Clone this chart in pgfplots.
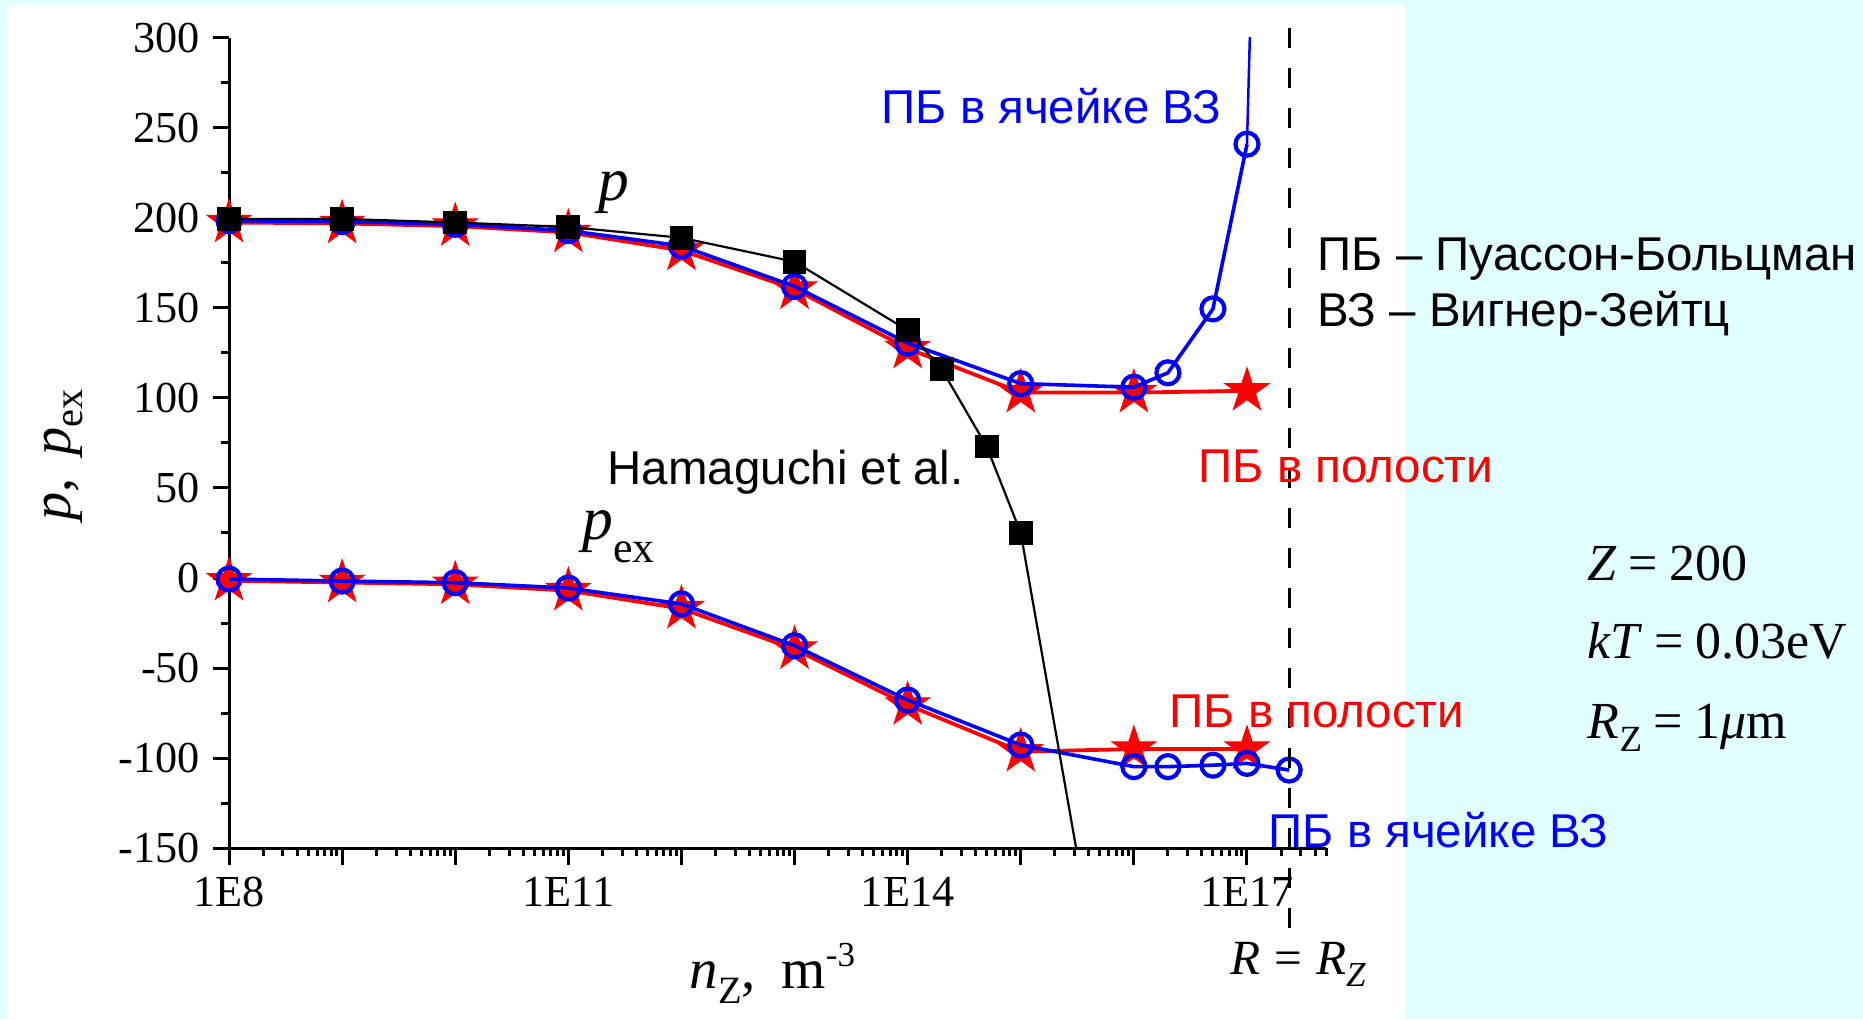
\documentclass[border=0pt]{standalone}
\usepackage{pgfplots}
\pgfplotsset{compat=1.18}
\usepackage{fontspec}
\setmainfont{Liberation Serif}
\newfontfamily\arial{Liberation Sans}

\definecolor{bgcyan}{RGB}{226,255,255}
\definecolor{pbblue}{RGB}{0,0,255}
\definecolor{pbred}{RGB}{255,0,0}

% filled five-pointed star
\pgfdeclareplotmark{fstar}{%
  \pgfpathmoveto{\pgfpointpolar{90}{\pgfplotmarksize}}%
  \pgfpathlineto{\pgfpointpolar{126}{0.382\pgfplotmarksize}}%
  \pgfpathlineto{\pgfpointpolar{162}{\pgfplotmarksize}}%
  \pgfpathlineto{\pgfpointpolar{198}{0.382\pgfplotmarksize}}%
  \pgfpathlineto{\pgfpointpolar{234}{\pgfplotmarksize}}%
  \pgfpathlineto{\pgfpointpolar{270}{0.382\pgfplotmarksize}}%
  \pgfpathlineto{\pgfpointpolar{306}{\pgfplotmarksize}}%
  \pgfpathlineto{\pgfpointpolar{342}{0.382\pgfplotmarksize}}%
  \pgfpathlineto{\pgfpointpolar{18}{\pgfplotmarksize}}%
  \pgfpathlineto{\pgfpointpolar{54}{0.382\pgfplotmarksize}}%
  \pgfpathclose
  \pgfusepathqfillstroke
}

\begin{document}
\begin{tikzpicture}
\useasboundingbox (0,0) rectangle (186.3mm,101.9mm);
\fill[bgcyan] (0,0) rectangle (186.3mm,101.9mm);
\fill[white] (0.8mm,0) rectangle (140.5mm,101.4mm);

\begin{axis}[
  at={(22.9mm,17.1mm)}, anchor=south west,
  scale only axis, width=109.7mm, height=81mm,
  xmode=log, xmin=1e8, xmax=5e17,
  ymin=-150, ymax=300,
  axis x line=bottom, axis y line=left,
  axis line style={-, line width=0.3mm},
  xtick={1e8,1e9,1e10,1e11,1e12,1e13,1e14,1e15,1e16,1e17},
  xticklabels={1E8,,,1E11,,,1E14,,,1E17},
  minor xtick={2e8,3e8,4e8,5e8,6e8,7e8,8e8,9e8,
    2e9,3e9,4e9,5e9,6e9,7e9,8e9,9e9,
    2e10,3e10,4e10,5e10,6e10,7e10,8e10,9e10,
    2e11,3e11,4e11,5e11,6e11,7e11,8e11,9e11,
    2e12,3e12,4e12,5e12,6e12,7e12,8e12,9e12,
    2e13,3e13,4e13,5e13,6e13,7e13,8e13,9e13,
    2e14,3e14,4e14,5e14,6e14,7e14,8e14,9e14,
    2e15,3e15,4e15,5e15,6e15,7e15,8e15,9e15,
    2e16,3e16,4e16,5e16,6e16,7e16,8e16,9e16,
    2e17,3e17,4e17,5e17},
  ytick={-150,-100,...,300},
  minor ytick={-125,-75,...,275},
  tick align=outside,
  major tick length=1.65mm, minor tick length=0.8mm,
  every tick/.style={black, line width=0.3mm},
  tick label style={font=\fontsize{12.6}{14}\selectfont},
  /pgf/number format/assume math mode=true,
  clip mode=individual,
]

% p, Poisson-Boltzmann in a cavity
\addplot[pbred, line width=0.38mm, mark=fstar, mark size=2.3mm,
  mark options={solid, fill=pbred, draw=pbred, line width=0.1mm}]
  coordinates {(1e8,197.5) (1e9,197) (1e10,195.5) (1e11,192) (1e12,182)
    (1e13,160.5) (1e14,127.5) (1e15,103) (1e16,103) (1e17,104)};
% p_ex, Poisson-Boltzmann in a cavity
\addplot[pbred, line width=0.38mm, mark=fstar, mark size=2.3mm,
  mark options={solid, fill=pbred, draw=pbred, line width=0.1mm}]
  coordinates {(1e8,-1.5) (1e9,-2.5) (1e10,-3.5) (1e11,-7) (1e12,-17)
    (1e13,-39.5) (1e14,-70.5) (1e15,-96.5) (1e16,-95) (1e17,-95)};

% p, Poisson-Boltzmann in the Wigner-Seitz cell
\addplot[pbblue, line width=0.36mm, mark=o, mark size=1.15mm,
  mark options={solid, line width=0.42mm}]
  coordinates {(1e8,198.5) (1e9,198) (1e10,196.5) (1e11,193) (1e12,184.5)
    (1e13,162) (1e14,130.5) (1e15,108) (1e16,106) (2e16,114)
    (5e16,149.5) (1e17,241)};
\addplot[pbblue, line width=0.25mm, no marks]
  coordinates {(1e17,241) (1.065e17,305)};
% p_ex, Poisson-Boltzmann in the Wigner-Seitz cell
\addplot[pbblue, line width=0.36mm, mark=o, mark size=1.15mm,
  mark options={solid, line width=0.42mm}]
  coordinates {(1e8,-0.6) (1e9,-1.7) (1e10,-2.6) (1e11,-5.6) (1e12,-14.4)
    (1e13,-37.6) (1e14,-67.8) (1e15,-92.8) (1e16,-104.8) (2e16,-104.8)
    (5e16,-104) (1e17,-103) (2.36e17,-106.7)};

% Hamaguchi et al.
\addplot[black, line width=0.22mm, mark=square*, mark size=1.08mm,
  mark options={solid, fill=black}]
  coordinates {(1e8,199.5) (1e9,199.5) (1e10,197.5) (1e11,195) (1e12,189)
    (1e13,175.7) (1e14,137.6) (2e14,116) (5e14,73) (1e15,25)};
\addplot[black, line width=0.22mm, no marks]
  coordinates {(1e15,25) (5e15,-225)};

% R = R_Z
\draw[black, line width=0.28mm, dash pattern=on 2mm off 2mm]
  (axis cs:2.36e17,305.5) -- (axis cs:2.36e17,-194.5);
\end{axis}

\begin{scope}[x=0.1mm, y=-0.1mm, shift={(0mm,101.9mm)}]
  % axis titles
  \node[anchor=base west, inner sep=0pt, font=\fontsize{16.2}{19}\selectfont]
    at (689,988) {\textit{n}\raisebox{-1.5mm}{\fontsize{11}{12}\selectfont Z},\hspace{0.45em}m\raisebox{2.2mm}{\fontsize{10}{11}\selectfont -3}};
  \node[anchor=base, rotate=90, inner sep=0pt, font=\fontsize{16}{19}\selectfont]
    at (70,455) {\textit{p},\hspace{0.4em}\textit{p}\raisebox{-1.2mm}{\fontsize{11.5}{12}\selectfont ex}};

  % curve names
  \node[anchor=base west, inner sep=0pt, font=\fontsize{17.5}{20}\selectfont]
    at (598,201) {\textit{p}};
  \node[anchor=base west, inner sep=0pt, font=\fontsize{17.5}{20}\selectfont]
    at (582,539) {\textit{p}\raisebox{-2.3mm}{\fontsize{12.5}{13}\selectfont ex}};

  \begin{scope}[every node/.style={anchor=base west, inner sep=0pt,
      font=\arial\fontsize{13.5}{16}\selectfont}]
    \node[black] at (607,484) {Hamaguchi et al.};
    \node[pbblue] at (881,124) {ПБ в ячейке ВЗ};
    \node[black] at (1317,271) {ПБ – Пуассон-Больцман};
    \node[black] at (1317,327) {ВЗ – Вигнер-Зейтц};
    \node[pbred] at (1198,482) {ПБ в полости};
    \node[pbred] at (1169,727) {ПБ в полости};
    \node[pbblue] at (1268,847) {ПБ в ячейке ВЗ};
  \end{scope}

  % parameters
  \begin{scope}[every node/.style={anchor=base west, inner sep=0pt,
      font=\fontsize{14.8}{17}\selectfont}]
    \node at (1587,580) {\textit{Z}\hspace{0.22em}=\hspace{0.22em}200};
    \node at (1587,658) {\textit{kT}\hspace{0.22em}=\hspace{0.22em}0.03eV};
    \node at (1587,738) {\textit{R}\raisebox{-1.3mm}{\fontsize{10.5}{12}\selectfont Z}\hspace{0.22em}=\hspace{0.22em}1\textit{μ}m};
  \end{scope}
  \node[anchor=base west, inner sep=0pt, font=\fontsize{14}{17}\selectfont]
    at (1230,974) {\textit{R}\hspace{0.28em}=\hspace{0.28em}\textit{R}\raisebox{-1.2mm}{\fontsize{10}{11}\selectfont\textit{Z}}};
\end{scope}
\end{tikzpicture}
\end{document}
